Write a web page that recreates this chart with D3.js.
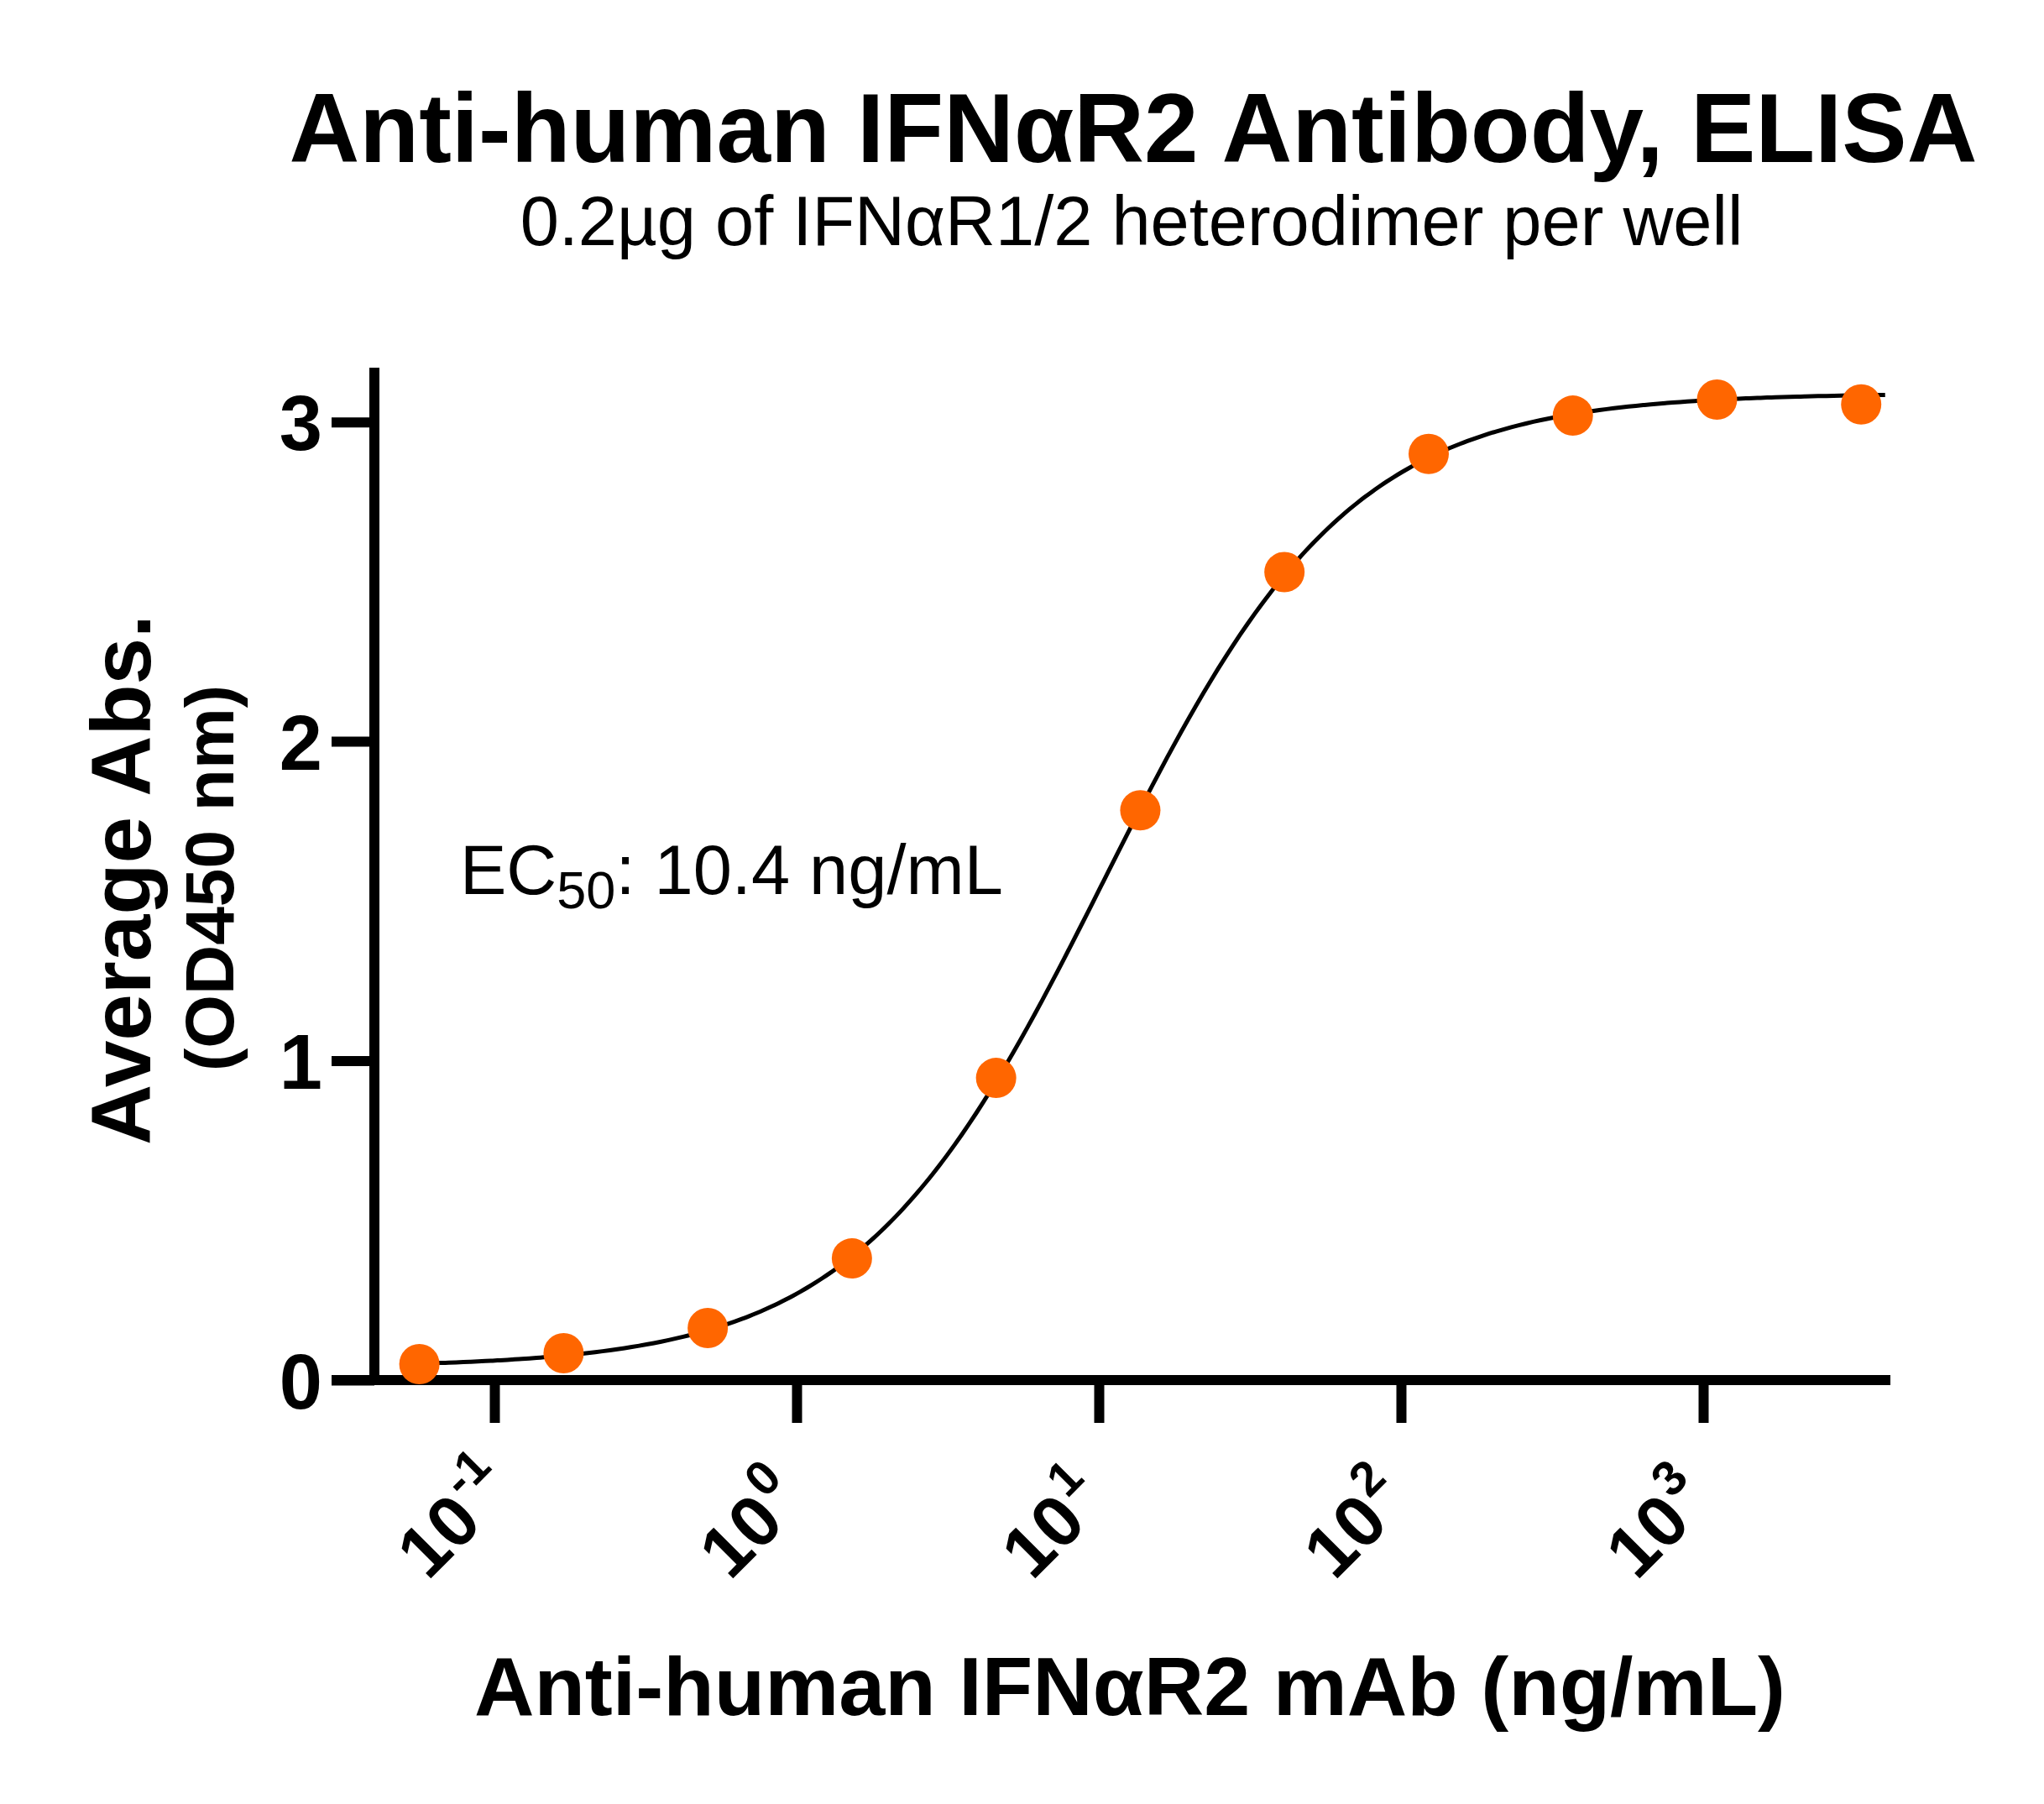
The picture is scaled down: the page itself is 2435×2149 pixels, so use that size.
<!DOCTYPE html>
<html lang="en">
<head>
    <meta charset="UTF-8">
    <title>Anti-human IFNαR2 Antibody, ELISA</title>
    <script src="https://d3js.org/d3.v7.min.js"></script>
    <style>
        body { margin: 0; background: #fff; font-family: "Liberation Sans", Arial, sans-serif; }
        svg text { font-family: "Liberation Sans", Arial, sans-serif; fill: #000; }
    </style>
</head>
<body>
    <svg width="2435" height="2149"></svg>

    <script>
        // Data (3-fold dilution series, ng/mL)
        const concentrations = [0.05645, 0.1694, 0.5081, 1.524, 4.572, 13.72, 41.15, 123.5, 370.4, 1111, 3333];
        const absorbance = [0.05, 0.084, 0.163, 0.381, 0.946, 1.784, 2.53, 2.90, 3.02, 3.07, 3.055];
        const xTickValues = [0.1, 1, 10, 100, 1000];
        const xTickExponents = ["-1", "0", "1", "2", "3"];
        const yTickValues = [0, 1, 2, 3];

        // 4PL fit parameters
        const fitBottom = 0.04, fitTop = 3.09, ec50 = 10.4, hill = 1.07;
        const fitEnd = 4000;

        const svg = d3.select("svg");

        // Scales: 10^-1 at x=589, 10^3 at x=2029
        const decade = 360;
        const x = d3.scaleLog()
            .domain([Math.pow(10, -1 - (589 - 446) / decade), Math.pow(10, 3 + (2252 - 2029) / decade)])
            .range([446, 2252]);
        const y = d3.scaleLinear()
            .domain([0, 3.17])
            .range([1644, 438]);

        const axisWidth = 12;
        const tickLen = 51;

        // Y axis
        const yAxis = svg.append("g")
            .attr("transform", `translate(${x.range()[0]},0)`)
            .call(d3.axisLeft(y).tickValues(yTickValues).tickFormat(d3.format("d"))
                .tickSize(tickLen).tickSizeOuter(0).tickPadding(11));
        yAxis.select(".domain").remove();
        yAxis.selectAll(".tick line").attr("stroke", "#000").attr("stroke-width", axisWidth);
        yAxis.selectAll(".tick text")
            .style("font-size", "92px").style("font-weight", "bold")
            .attr("dy", "0.36em");
        yAxis.append("line")
            .attr("x1", 0).attr("x2", 0)
            .attr("y1", y(0) + axisWidth / 2).attr("y2", y.range()[1])
            .attr("stroke", "#000").attr("stroke-width", axisWidth);

        // X axis
        const xAxis = svg.append("g")
            .attr("transform", `translate(0,${y(0)})`)
            .call(d3.axisBottom(x).tickValues(xTickValues).tickSize(tickLen).tickSizeOuter(0).tickFormat(() => ""));
        xAxis.select(".domain").remove();
        xAxis.selectAll(".tick line").attr("stroke", "#000").attr("stroke-width", axisWidth);
        xAxis.append("line")
            .attr("x1", x.range()[0] - tickLen).attr("x2", x.range()[1])
            .attr("y1", 0).attr("y2", 0)
            .attr("stroke", "#000").attr("stroke-width", axisWidth);

        // rotated power-of-ten labels
        xAxis.selectAll(".tick").each(function(d, i) {
            const t = d3.select(this).append("text")
                .attr("text-anchor", "start")
                .attr("transform", "translate(-80,240) rotate(-45)")
                .style("font-size", "86px").style("font-weight", "bold");
            t.append("tspan").text("10");
            t.append("tspan").attr("dx", 3).attr("dy", -40).style("font-size", "58px").text(xTickExponents[i]);
        });

        // Fitted curve
        const curveData = d3.range(0, 201).map(k => {
            const c = Math.pow(10, Math.log10(concentrations[0]) + k / 200 * (Math.log10(fitEnd) - Math.log10(concentrations[0])));
            return [c, fitBottom + (fitTop - fitBottom) / (1 + Math.pow(ec50 / c, hill))];
        });
        svg.append("path")
            .datum(curveData)
            .attr("fill", "none")
            .attr("stroke", "#000")
            .attr("stroke-width", 5)
            .attr("d", d3.line().x(d => x(d[0])).y(d => y(d[1])).curve(d3.curveBasis));

        // Points
        svg.selectAll(".dot")
            .data(concentrations.map((c, i) => ({ c: c, v: absorbance[i] })))
            .enter().append("circle")
            .attr("class", "dot")
            .attr("cx", d => x(d.c))
            .attr("cy", d => y(d.v))
            .attr("r", 24)
            .attr("fill", "#FF6600");

        // Titles
        svg.append("text")
            .attr("x", 1350).attr("y", 193)
            .attr("text-anchor", "middle")
            .style("font-size", "116px").style("font-weight", "bold")
            .text("Anti-human IFNαR2 Antibody, ELISA");
        svg.append("text")
            .attr("x", 1348).attr("y", 292)
            .attr("text-anchor", "middle")
            .style("font-size", "83px")
            .text("0.2µg of IFNαR1/2 heterodimer per well");

        // EC50 annotation
        const ec = svg.append("text")
            .attr("x", 548).attr("y", 1065)
            .style("font-size", "83px");
        ec.append("tspan").text("EC");
        ec.append("tspan").attr("dy", 17).style("font-size", "63px").text("50");
        ec.append("tspan").attr("dy", -17).text(": 10.4 ng/mL");

        // Axis titles
        svg.append("text")
            .attr("transform", "translate(179,1048) rotate(-90)")
            .attr("text-anchor", "middle")
            .style("font-size", "100px").style("font-weight", "bold")
            .text("Average Abs.");
        svg.append("text")
            .attr("transform", "translate(278,1046) rotate(-90)")
            .attr("text-anchor", "middle")
            .style("font-size", "82px").style("font-weight", "bold")
            .text("(OD450 nm)");
        svg.append("text")
            .attr("x", 1346).attr("y", 2043)
            .attr("text-anchor", "middle")
            .style("font-size", "99px").style("font-weight", "bold")
            .text("Anti-human IFNαR2 mAb (ng/mL)");
    </script>
</body>
</html>
